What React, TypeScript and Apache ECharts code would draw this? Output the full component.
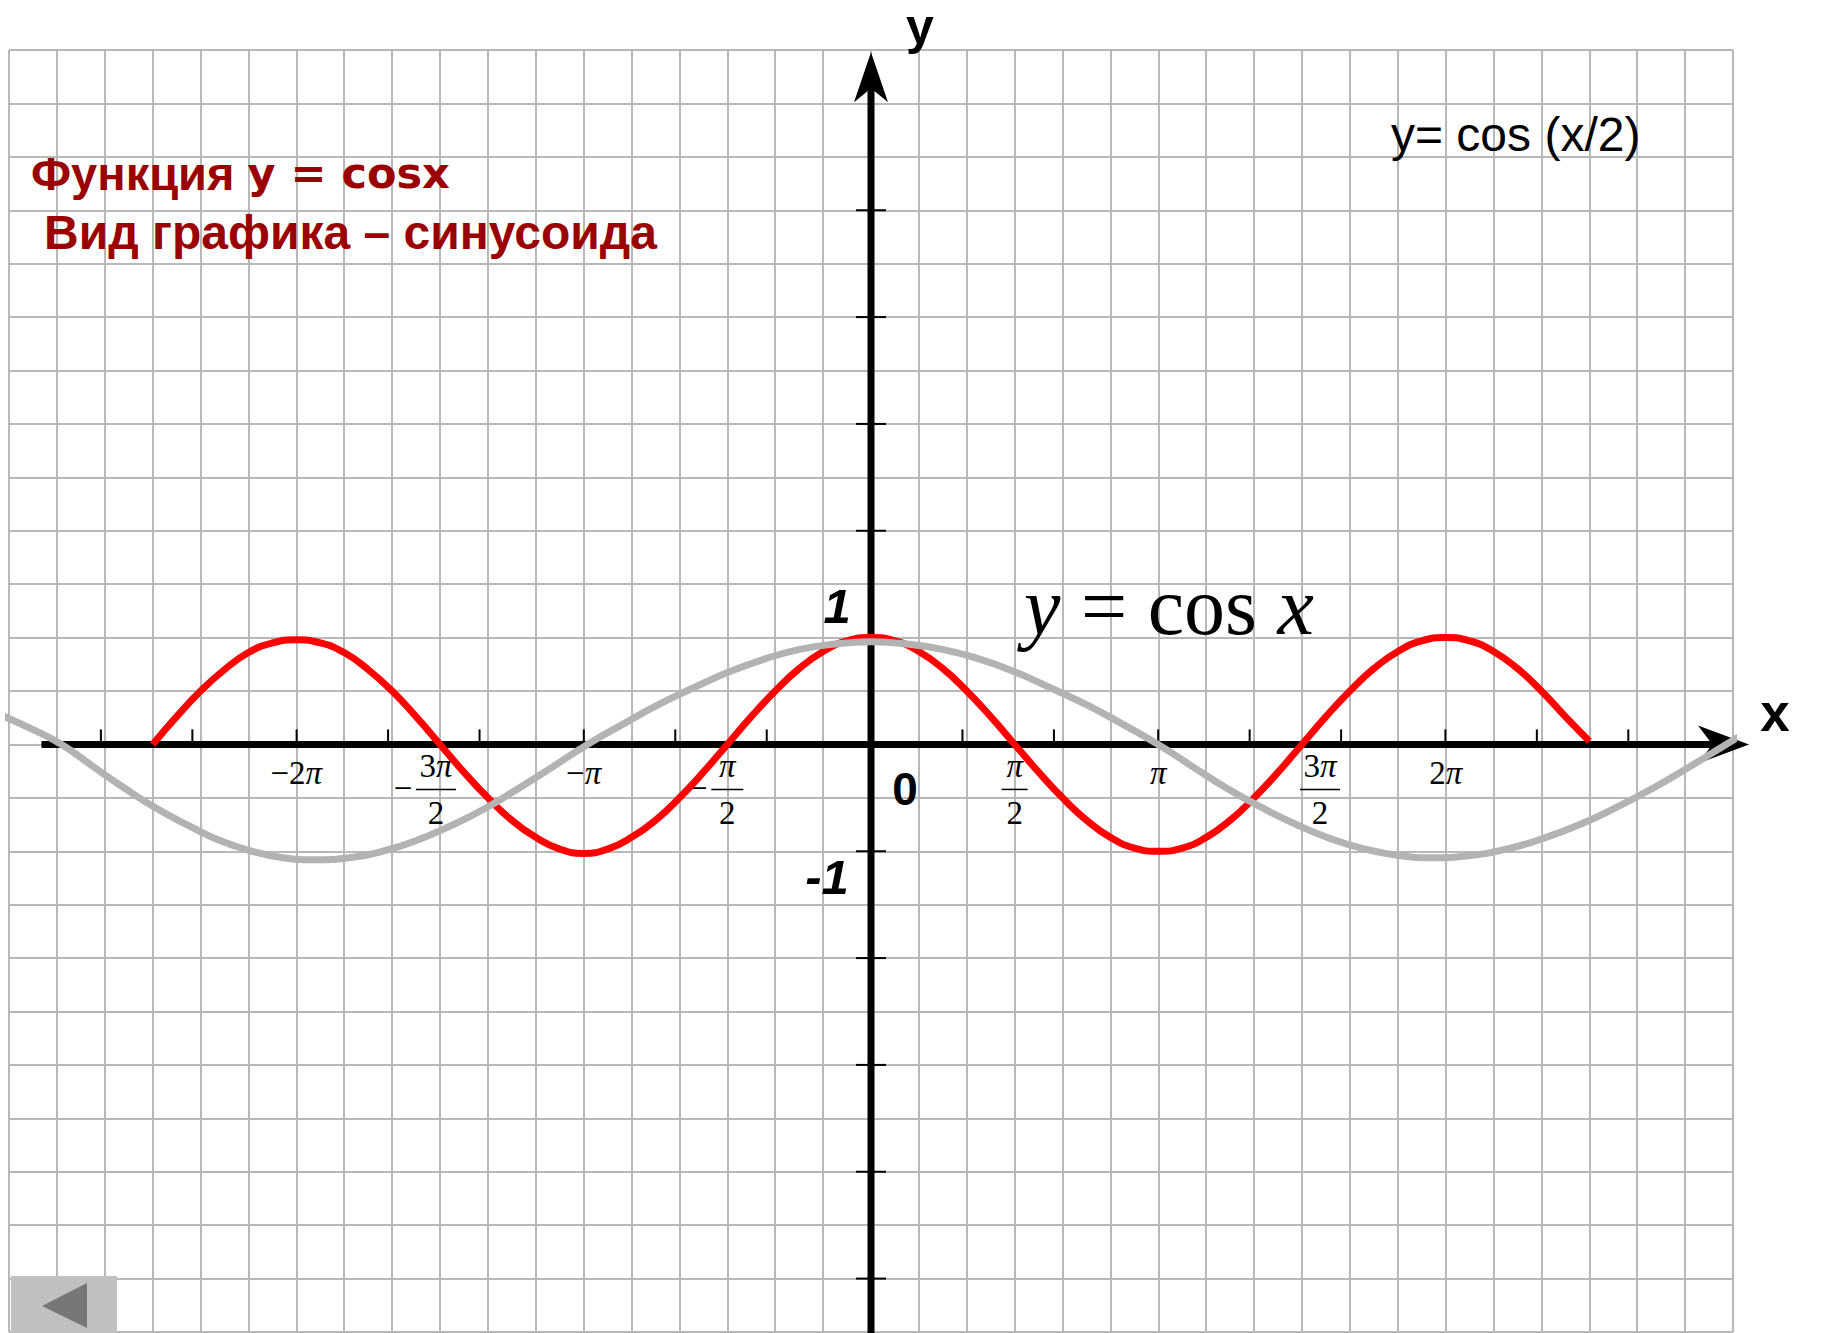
import React, { useEffect, useRef } from 'react';
import * as echarts from 'echarts';

// ---------- data ----------
const PAPER_COLUMNS = 36;
const PAPER_ROWS = 24;

const xTickValues = [-8.42, -7.42, -6.28, -5.28, -4.28, -3.14, -2.14, -1.14, 1, 2, 3.14, 4.14, 5.14, 6.28, 7.28, 8.28];
const yTickValues = [-5, -4, -3, -2, -1, 1, 2, 3, 4, 5];

const piLabelValues = [-6.2832, -3.1416, 3.1416, 6.2832];
const piLabelNumbers = ['−2', '−', '', '2'];

const fracLabelValues = [-4.7124, -1.5708, 1.5708, 4.7124];
const fracNumerators = ['3', '', '', '3'];
const fracSigns = ['−', '−', '', ''];
const fracDenominators = ['2', '2', '2', '2'];

const axisNumberValues = [1, -1, 0];
const axisNumberTexts = ['1', '-1', '0'];

// y = cos x (red)
const cosXValues = [
  -7.854, -7.592, -7.330, -7.069, -6.807, -6.545, -6.283, -6.021, -5.760, -5.498, -5.236, -4.974, -4.712, -4.451, -4.189, -3.927,
  -3.665, -3.403, -3.142, -2.880, -2.618, -2.356, -2.094, -1.833, -1.571, -1.309, -1.047, -0.785, -0.524, -0.262, 0,
  0.262, 0.524, 0.785, 1.047, 1.309, 1.571, 1.833, 2.094, 2.356, 2.618, 2.880, 3.142, 3.403, 3.665, 3.927,
  4.189, 4.451, 4.712, 4.974, 5.236, 5.498, 5.760, 6.021, 6.283, 6.545, 6.807, 7.069, 7.330, 7.592, 7.854,
];
const cosYValues = [
  0, 0.26, 0.5, 0.7, 0.86, 0.95, 0.98, 0.95, 0.86, 0.7, 0.5, 0.26, 0, -0.26, -0.5, -0.71,
  -0.87, -0.98, -1.02, -0.98, -0.87, -0.71, -0.5, -0.26, 0, 0.26, 0.5, 0.71, 0.87, 0.97, 1.0,
  0.97, 0.87, 0.71, 0.5, 0.26, 0, -0.26, -0.5, -0.71, -0.87, -0.97, -1.0, -0.97, -0.87, -0.71,
  -0.5, -0.26, 0, 0.26, 0.5, 0.71, 0.87, 0.97, 1.0, 0.97, 0.87, 0.71, 0.5, 0.26, 0.03,
];

// y = cos(x/2) (grey)
const halfXValues = [
  -9.53, -9.19, -8.85, -8.5, -8.16, -7.81, -7.46, -7.12, -6.77, -6.43, -6.08,
  -5.71, -5.34, -4.97, -4.59, -4.22, -3.85, -3.48, -3.1,
  -2.71, -2.33, -1.94, -1.55, -1.16, -0.78, -0.39, 0,
  0.39, 0.78, 1.18, 1.57, 1.96, 2.36, 2.75, 3.14,
  3.52, 3.89, 4.27, 4.65, 5.02, 5.4, 5.77, 6.15,
  6.55, 6.95, 7.35, 7.75, 8.15, 8.55, 8.95, 9.35, 9.75, 10.15, 10.45,
];
const halfYValues = [
  0.28, 0.15, 0, -0.21, -0.41, -0.6, -0.76, -0.9, -1.0, -1.06, -1.08,
  -1.06, -1.0, -0.9, -0.76, -0.6, -0.41, -0.21, 0,
  0.19, 0.37, 0.53, 0.68, 0.8, 0.89, 0.94, 0.96,
  0.94, 0.89, 0.8, 0.68, 0.53, 0.37, 0.19, 0,
  -0.21, -0.41, -0.59, -0.75, -0.88, -0.98, -1.04, -1.06,
  -1.04, -0.98, -0.88, -0.75, -0.59, -0.41, -0.21, 0, 0.2, 0.39, 0.52,
];

// ---------- styles ----------
const X_AXIS_FROM = -9.07;
const X_AXIS_TO = 9.6;
const Y_AXIS_FROM = -5.7;
const Y_AXIS_TO = 6.48;
const SERIF = '"Liberation Serif", "Times New Roman", serif';
const SANS = '"Liberation Sans", Arial, sans-serif';
const LABEL_SIZE = 33;
const fracShift = [-4, 0, 0, 18];
const fracBarWidth = [40, 32, 26, 40];
const numberOffsets: number[][] = [[-34, -32], [-44, 26], [34, 45]];
const numberSizes = [49, 49, 46];
const DARK_RED = '#9a0000';

function txt(x: number, y: number, style: any) {
  return {
    type: 'text',
    x,
    y,
    style: { fill: '#000', align: 'center', verticalAlign: 'middle', textAlign: 'center', textVerticalAlign: 'middle', ...style },
  };
}

export default function App() {
  const ref = useRef<HTMLDivElement>(null);

  useEffect(() => {
    if (!ref.current) return;
    const chart = echarts.init(ref.current, undefined, { renderer: 'svg' });

    const cosData = cosXValues.map((x, i) => [x, cosYValues[i]]);
    const halfData = halfXValues.map((x, i) => [x, halfYValues[i]]);
    const tickData = [
      ...xTickValues.map((v) => [v, 0, 0]),
      ...yTickValues.map((v) => [0, v, 1]),
    ];
    const labelData = [
      ...piLabelValues.map((v, i) => [v, 0, i, 0]),
      ...fracLabelValues.map((v, i) => [v, 1, i, 0]),
      ...axisNumberValues.map((v, i) => [0, 2, i, v]),
    ];

    const piRich = {
      r: { fontFamily: SERIF, fontSize: LABEL_SIZE, fill: '#000' },
      i: { fontFamily: SERIF, fontSize: LABEL_SIZE, fontStyle: 'italic', fill: '#000' },
    };

    const option: any = {
      animation: false,
      backgroundColor: '#ffffff',
      grid: { left: 9, right: 95, top: 50, bottom: 1, containLabel: false },
      xAxis: [
        { type: 'value', min: -3 * Math.PI, max: 3 * Math.PI, show: false },
        {
          type: 'value', min: 0, max: PAPER_COLUMNS, interval: 1, position: 'top',
          axisLine: { show: false }, axisTick: { show: false }, axisLabel: { show: false },
          splitLine: { show: true, lineStyle: { color: '#b8b8b8', width: 2 } },
        },
      ],
      yAxis: [
        { type: 'value', min: -5.5, max: 6.5, show: false },
        {
          type: 'value', min: 0, max: PAPER_ROWS, interval: 1, position: 'right',
          axisLine: { show: false }, axisTick: { show: false }, axisLabel: { show: false },
          splitLine: { show: true, lineStyle: { color: '#b8b8b8', width: 2 } },
        },
      ],
      series: [
        {
          type: 'custom', name: 'axes', coordinateSystem: 'cartesian2d', xAxisIndex: 0, yAxisIndex: 0, z: 3, silent: true,
          data: [[X_AXIS_FROM, 0, X_AXIS_TO, 0], [0, Y_AXIS_FROM, 0, Y_AXIS_TO]],
          renderItem: (params: any, api: any) => {
            const p0 = api.coord([api.value(0), api.value(1)]);
            const p1 = api.coord([api.value(2), api.value(3)]);
            const horiz = params.dataIndex === 0;
            const L = horiz ? 51 : 50;
            const W = horiz ? 38 : 34;
            const dx = p1[0] - p0[0];
            const dy = p1[1] - p0[1];
            const len = Math.hypot(dx, dy);
            const ux = dx / len, uy = dy / len;
            const nx = -uy, ny = ux;
            const base = [p1[0] - ux * L, p1[1] - uy * L];
            const notch = [p1[0] - ux * L * 0.72, p1[1] - uy * L * 0.72];
            return {
              type: 'group',
              children: [
                { type: 'line', shape: { x1: p0[0], y1: p0[1], x2: notch[0], y2: notch[1] }, style: { stroke: '#000', lineWidth: 7 } },
                {
                  type: 'polygon',
                  shape: { points: [p1, [base[0] + nx * W / 2, base[1] + ny * W / 2], notch, [base[0] - nx * W / 2, base[1] - ny * W / 2]] },
                  style: { fill: '#000' },
                },
              ],
            };
          },
        },
        {
          type: 'custom', name: 'ticks', coordinateSystem: 'cartesian2d', xAxisIndex: 0, yAxisIndex: 0, z: 3, silent: true,
          data: tickData,
          renderItem: (params: any, api: any) => {
            const p = api.coord([api.value(0), api.value(1)]);
            const kind = api.value(2);
            const shape = kind === 0
              ? { x1: p[0], y1: p[1] - 3, x2: p[0], y2: p[1] - 15 }
              : { x1: p[0] - 15, y1: p[1], x2: p[0] + 15, y2: p[1] };
            return { type: 'line', shape, style: { stroke: '#000', lineWidth: 2 } };
          },
        },
        {
          type: 'custom', name: 'labels', coordinateSystem: 'cartesian2d', xAxisIndex: 0, yAxisIndex: 0, z: 3, silent: true,
          data: labelData,
          renderItem: (params: any, api: any) => {
            const kind = api.value(1);
            const i = api.value(2);
            if (kind === 0) {
              const p = api.coord([api.value(0), 0]);
              return txt(p[0], p[1] + 29, { text: `{r|${piLabelNumbers[i]}}{i|π}`, rich: piRich });
            }
            if (kind === 1) {
              const p = api.coord([api.value(0), 0]);
              const cx = p[0] + fracShift[i];
              const w = fracBarWidth[i];
              const children: any[] = [
                txt(cx, p[1] + 22, { text: `{r|${fracNumerators[i]}}{i|π}`, rich: piRich }),
                { type: 'line', shape: { x1: cx - w / 2, y1: p[1] + 45, x2: cx + w / 2, y2: p[1] + 45 }, style: { stroke: '#000', lineWidth: 1.5 } },
                txt(cx, p[1] + 69, { text: fracDenominators[i], font: `${LABEL_SIZE}px ${SERIF}` }),
              ];
              if (fracSigns[i]) {
                children.push(txt(cx - w / 2 - 13, p[1] + 44, { text: fracSigns[i], font: `${LABEL_SIZE}px ${SERIF}` }));
              }
              return { type: 'group', children };
            }
            const p = api.coord([0, api.value(3)]);
            const off = numberOffsets[i];
            const italic = i < 2 ? 'italic ' : '';
            return txt(p[0] + off[0], p[1] + off[1], { text: axisNumberTexts[i], font: `${italic}bold ${numberSizes[i]}px ${SANS}` });
          },
        },
        {
          type: 'line', name: 'y = cos x', xAxisIndex: 0, yAxisIndex: 0, data: cosData, smooth: true,
          showSymbol: false, symbol: 'none', z: 4, silent: true, clip: false,
          lineStyle: { color: '#ff0000', width: 7 },
        },
        {
          type: 'line', name: 'y = cos(x/2)', xAxisIndex: 0, yAxisIndex: 0, data: halfData, smooth: true,
          showSymbol: false, symbol: 'none', z: 5, silent: true, clip: false,
          lineStyle: { color: '#b3b3b3', width: 7 },
        },
      ],
      graphic: {
        elements: [
          {
            type: 'text', x: 31, y: 173, z: 20,
            style: {
              text: '{a|Функция }{b|y = cosx}',
              fill: DARK_RED, verticalAlign: 'middle', textVerticalAlign: 'middle',
              rich: {
                a: { fontFamily: SANS, fontWeight: 'bold', fontSize: 47, fill: DARK_RED },
                b: { fontFamily: '"DejaVu Sans", Verdana, sans-serif', fontWeight: 'bold', fontSize: 43, fill: DARK_RED },
              },
            },
          },
          {
            type: 'text', x: 44, y: 232, z: 20,
            style: { text: 'Вид графика – синусоида', font: `bold 48px ${SANS}`, fill: DARK_RED, verticalAlign: 'middle', textVerticalAlign: 'middle' },
          },
          {
            type: 'text', x: 1391, y: 134, z: 20,
            style: { text: 'y= cos (x/2)', font: `48px ${SANS}`, fill: '#000', verticalAlign: 'middle', textVerticalAlign: 'middle' },
          },
          {
            type: 'text', x: 1024, y: 606, z: 20,
            style: {
              text: '{i|y}{r| = cos }{i|x}',
              fill: '#000', verticalAlign: 'middle', textVerticalAlign: 'middle',
              rich: {
                i: { fontFamily: SERIF, fontSize: 82, fontStyle: 'italic', fill: '#000' },
                r: { fontFamily: SERIF, fontSize: 82, fill: '#000' },
              },
            },
          },
          {
            type: 'text', x: 920, y: 27, z: 20,
            style: { text: 'y', font: `bold 50px ${SANS}`, fill: '#000', align: 'center', textAlign: 'center', verticalAlign: 'middle', textVerticalAlign: 'middle' },
          },
          {
            type: 'text', x: 1775, y: 712, z: 1,
            style: { text: 'x', font: `bold 53px ${SANS}`, fill: '#000', align: 'center', textAlign: 'center', verticalAlign: 'middle', textVerticalAlign: 'middle' },
          },
          { type: 'rect', z: 30, shape: { x: 11, y: 1276, width: 106, height: 57 }, style: { fill: '#c0c0c0' } },
          { type: 'polygon', z: 31, shape: { points: [[42, 1306], [87, 1283], [87, 1328]] }, style: { fill: '#777777' } },
        ],
      },
    };

    chart.setOption(option);
    return () => chart.dispose();
  }, []);

  return (
    <div
      ref={ref}
      style={{ position: 'absolute', left: 0, top: 0, width: 1828, height: 1333, background: '#ffffff' }}
    />
  );
}
